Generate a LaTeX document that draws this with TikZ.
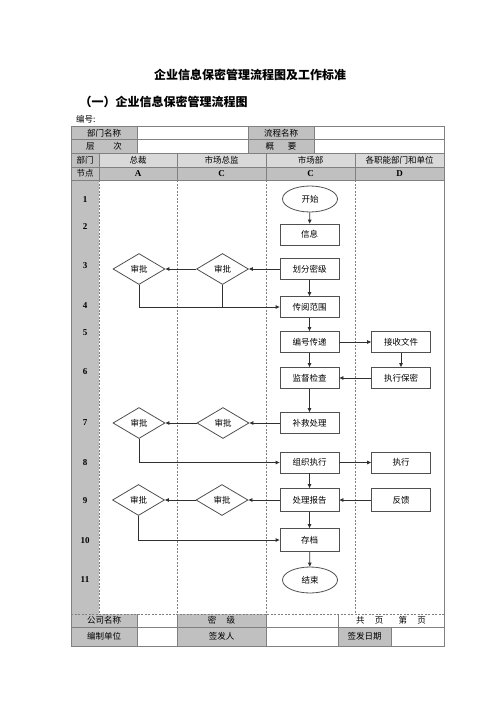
\documentclass[tikz,border=0pt]{standalone}
\usepackage{fontspec}
\setmainfont{Noto Sans CJK SC}
\newfontfamily\numfont{Liberation Serif}
\usetikzlibrary{shapes.geometric, arrows.meta}

\definecolor{cellgray}{HTML}{C0C0C0}
\definecolor{lanegray}{HTML}{D9D9D9}
\definecolor{rulegray}{HTML}{808080}
\definecolor{boxgray}{HTML}{505050}
\definecolor{linegray}{HTML}{303030}

\tikzset{
    txt/.style={font=\fontsize{8.5}{10}\selectfont, inner sep=0pt},
    numtxt/.style={font=\numfont\bfseries\fontsize{9}{10}\selectfont, inner sep=0pt},
    box/.style={draw=boxgray, line width=0.8pt, fill=white, minimum width=59pt, minimum height=21pt, inner sep=0pt, font=\fontsize{8.5}{10}\selectfont},
    oval/.style={ellipse, draw=boxgray, line width=0.8pt, fill=white, minimum width=55pt, minimum height=26pt, inner sep=0pt, font=\fontsize{8.5}{10}\selectfont},
    check/.style={diamond, draw=boxgray, line width=0.8pt, fill=white, minimum width=52pt, minimum height=31pt, inner sep=0pt, font=\fontsize{8.5}{10}\selectfont},
    flow/.style={draw=linegray, line width=0.8pt, -{Triangle[length=4pt,width=3.5pt]}},
    link/.style={draw=linegray, line width=0.8pt},
    rule/.style={draw=rulegray, line width=0.8pt},
    lane/.style={draw=rulegray, line width=0.8pt, dash pattern=on 2pt off 1.5pt}
}

\begin{document}
\begin{tikzpicture}[x=1pt, y=-1pt]
    \useasboundingbox (0,0) rectangle (500,707);

    % Titles
    \node[font=\bfseries\fontsize{12}{14}\selectfont] (title) at (250,75) {企业信息保密管理流程图及工作标准};
    \node[font=\bfseries\fontsize{12}{14}\selectfont, anchor=west] (subtitle) at (76,102) {（一）企业信息保密管理流程图};
    \node[txt, anchor=west] (code) at (76,119) {编号:};

    % Cell shading
    \fill[cellgray] (71,126) rectangle (137,153);
    \fill[cellgray] (248,126) rectangle (314,153);
    \fill[cellgray] (71,153) rectangle (99,167);
    \fill[lanegray] (99,153) rectangle (444,167);
    \fill[cellgray] (71,167) rectangle (444,180);
    \fill[cellgray] (71,180) rectangle (99,614);
    \fill[cellgray] (71,614) rectangle (137,646);
    \fill[cellgray] (177,614) rectangle (266,646);
    \fill[cellgray] (338,627) rectangle (391,646);

    % Table rules
    \draw[rule] (71,126) rectangle (444,646);
    \draw[rule] (71,139.5) -- (444,139.5) (71,153) -- (444,153) (71,167) -- (444,167) (71,180) -- (444,180);
    \draw[rule] (137,126) -- (137,153) (248,126) -- (248,153) (314,126) -- (314,153);
    \foreach \x in {99,177,266,355}
        \draw[rule] (\x,153) -- (\x,180);
    \draw[rule] (71,627) -- (444,627);
    \draw[rule] (137,614) -- (137,646) (177,614) -- (177,646) (266,614) -- (266,646) (338,614) -- (338,646) (391,627) -- (391,646);

    % Swim lanes
    \foreach \x in {99,177,266,355}
        \draw[lane] (\x,180) -- (\x,614);
    \draw[lane] (71,614) -- (444,614);

    % Header texts
    \node[txt] (deptname) at (104,133) {部门名称};
    \node[txt] (level) at (104,146.5) {层\hspace{2.2em}次};
    \node[txt] (procname) at (281,133) {流程名称};
    \node[txt] (summary) at (281,146.5) {概\hspace{1.6em}要};
    \node[txt] (dept) at (85,160) {部门};
    \node[txt] (ceo) at (138,160) {总裁};
    \node[txt] (director) at (221.5,160) {市场总监};
    \node[txt] (market) at (310.5,160) {市场部};
    \node[txt] (units) at (399.5,160) {各职能部门和单位};
    \node[txt] (nodehead) at (85,173.5) {节点};
    \node[numtxt] (colA) at (138,173.5) {A};
    \node[numtxt] (colC) at (221.5,173.5) {C};
    \node[numtxt] (colCC) at (310.5,173.5) {C};
    \node[numtxt] (colD) at (399.5,173.5) {D};

    % Step numbers
    \foreach \n/\y in {1/200, 2/227, 3/266, 4/306, 5/333, 6/372, 7/423, 8/463, 9/501, 10/541, 11/580}
        \node[numtxt] (row\n) at (85,\y) {\n};

    % Footer texts
    \node[txt] (company) at (104,620.5) {公司名称};
    \node[txt] (secret) at (221.5,620.5) {密\hspace{1.2em}级};
    \node[txt] (pages) at (391,620.5) {共\hspace{1.2em}页\hspace{1.8em}第\hspace{1.2em}页};
    \node[txt] (unit) at (104,636.5) {编制单位};
    \node[txt] (signer) at (221.5,636.5) {签发人};
    \node[txt] (signdate) at (364.5,636.5) {签发日期};

    % Market department
    \node[oval] (start) at (310,199) {开始};
    \node[box] (info) at (309.5,234.5) {信息};
    \node[box] (classify) at (309.5,269) {划分密级};
    \node[box] (circulate) at (309.5,307) {传阅范围};
    \node[box] (number) at (309.5,342) {编号传递};
    \node[box] (inspect) at (309.5,378) {监督检查};
    \node[box] (remedy) at (309.5,423) {补救处理};
    \node[box] (organize) at (309.5,462.5) {组织执行};
    \node[box, minimum height=23pt] (report) at (309.5,500) {处理报告};
    \node[box, minimum height=23pt] (archive) at (309.5,540) {存档};
    \node[oval] (finish) at (310,580) {结束};

    % Functional units
    \node[box] (receive) at (401,342) {接收文件};
    \node[box] (keep) at (401,378) {执行保密};
    \node[box] (execute) at (401,462.5) {执行};
    \node[box, minimum height=23pt] (feedback) at (401,500) {反馈};

    % Approvals
    \node[check] (ceo3) at (139,269) {审批};
    \node[check] (dir3) at (222.5,269) {审批};
    \node[check] (ceo7) at (139,423) {审批};
    \node[check] (dir7) at (223,423) {审批};
    \node[check] (ceo9) at (138.5,500) {审批};
    \node[check] (dir9) at (222,500) {审批};

    % Connectors
    \draw[flow] (start) -- (info);
    \draw[flow] (classify) -- (dir3);
    \draw[flow] (dir3) -- (ceo3);
    \draw[flow] (classify) -- (circulate);
    \draw[flow] (ceo3.south) |- (circulate.west);
    \draw[link] (dir3.south) -- (dir3.south |- circulate.west);
    \draw[flow] (circulate) -- (number);
    \draw[flow] (number) -- (receive);
    \draw[flow] (number) -- (inspect);
    \draw[flow] (receive) -- (keep);
    \draw[flow] (keep) -- (inspect);
    \draw[flow] (inspect) -- (remedy);
    \draw[flow] (remedy) -- (dir7);
    \draw[flow] (dir7) -- (ceo7);
    \draw[flow] (ceo7.south) |- (organize.west);
    \draw[flow] (organize) -- (execute);
    \draw[flow] (organize) -- (report);
    \draw[flow] (feedback) -- (report);
    \draw[flow] (report) -- (dir9);
    \draw[flow] (dir9) -- (ceo9);
    \draw[flow] (ceo9.south) |- (archive.west);
    \draw[flow] (report) -- (archive);
    \draw[flow] (archive) -- (finish);

\end{tikzpicture}
\end{document}
